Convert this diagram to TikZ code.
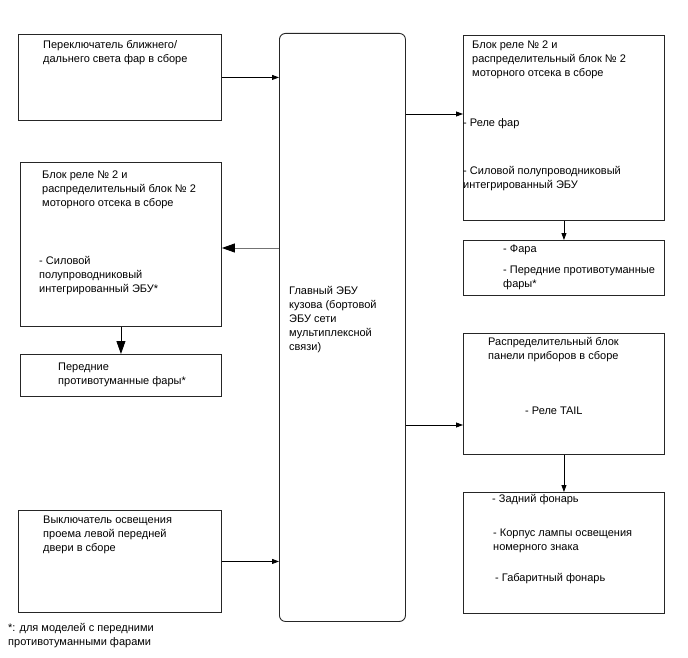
\documentclass[tikz,border=0pt]{standalone}
\usepackage{fontspec}
\setmainfont{Liberation Sans}
\usepackage{tikz}
\usetikzlibrary{arrows.meta, positioning, calc}
\tikzstyle{block} = [rectangle, draw=black!85, line width=0.9pt, anchor=north west, inner sep=0pt]
\tikzstyle{txt} = [anchor=north west, align=left, inner sep=0pt, font=\fontsize{11}{14}\selectfont]
\tikzstyle{arrow} = [line width=0.8pt, -{Triangle[length=7pt, width=5pt]}]
\tikzstyle{bigarrow} = [line width=0.8pt, -{Triangle[length=13pt, width=9pt, color=black]}]

\begin{document}
\begin{tikzpicture}[x=1pt, y=-1pt]
  \useasboundingbox (0,0) rectangle (688,658);

  % left column
  \node[block, minimum width=203pt, minimum height=86pt] (sw) at (18,34) {};
  \node[block, minimum width=201pt, minimum height=164pt] (relL) at (20,162) {};
  \node[block, minimum width=201pt, minimum height=42pt] (fogL) at (20,354) {};
  \node[block, minimum width=203pt, minimum height=102pt] (dsw) at (18,510) {};

  % body ECU
  \node[block, rounded corners=6pt, minimum width=126pt, minimum height=588pt] (ecu) at (279,33) {};

  % right column
  \node[block, minimum width=201pt, minimum height=185pt] (relR) at (463,35) {};
  \node[block, minimum width=201pt, minimum height=55pt] (lampR) at (463,240) {};
  \node[block, minimum width=201pt, minimum height=121pt] (ipb) at (463,333) {};
  \node[block, minimum width=201pt, minimum height=121pt] (tail) at (463,492) {};

  % texts
  \node[txt] (swT) at (43,40) {Переключатель ближнего/\\дальнего света фар в сборе};
  \node[txt] (relLT) at (42,171) {Блок реле № 2 и\\распределительный блок № 2\\моторного отсека в сборе};
  \node[txt] (relLI) at (39,256) {- Силовой\\полупроводниковый\\интегрированный ЭБУ*};
  \node[txt] (fogLT) at (58,363) {Передние\\противотуманные фары*};
  \node[txt] (dswT) at (43,516) {Выключатель освещения\\проема левой передней\\двери в сборе};
  \node[txt] (note) at (8,623) {*: для моделей с передними\\противотуманными фарами};
  \node[txt] (ecuT) at (289,286) {Главный ЭБУ\\кузова (бортовой\\ЭБУ сети\\мультиплексной\\связи)};
  \node[txt] (relRT) at (472,41) {Блок реле № 2 и\\распределительный блок № 2\\моторного отсека в сборе};
  \node[txt] (relRa) at (463,118) {- Реле фар};
  \node[txt] (relRb) at (463,166) {- Силовой полупроводниковый\\интегрированный ЭБУ};
  \node[txt] (lampRa) at (503,245) {- Фара};
  \node[txt] (lampRb) at (503,266) {- Передние противотуманные\\фары*};
  \node[txt] (ipbT) at (488,337) {Распределительный блок\\панели приборов в сборе};
  \node[txt] (ipbR) at (525,407) {- Реле TAIL};
  \node[txt] (tailA) at (492,494) {- Задний фонарь};
  \node[txt] (tailB) at (493,529) {- Корпус лампы освещения\\номерного знака};
  \node[txt] (tailC) at (495,573) {- Габаритный фонарь};

  % connectors
  \coordinate (inL) at ($(relL.north east)+(0,86)$);
  \coordinate (inA) at ($(relR.north west)+(0,79)$);
  \coordinate (inC) at ($(ipb.north west)+(0,92)$);
  \draw[arrow] (sw) -- (sw -| ecu.west);
  \draw[bigarrow, draw=black!55] (ecu.west |- inL) -- (inL);
  \draw[bigarrow] (relL) -- (fogL);
  \draw[arrow] (dsw) -- (dsw -| ecu.west);
  \draw[arrow] (ecu.east |- inA) -- (inA);
  \draw[arrow] (ecu.east |- inC) -- (inC);
  \draw[arrow] (relR) -- (lampR);
  \draw[arrow] (ipb) -- (tail);
\end{tikzpicture}
\end{document}
